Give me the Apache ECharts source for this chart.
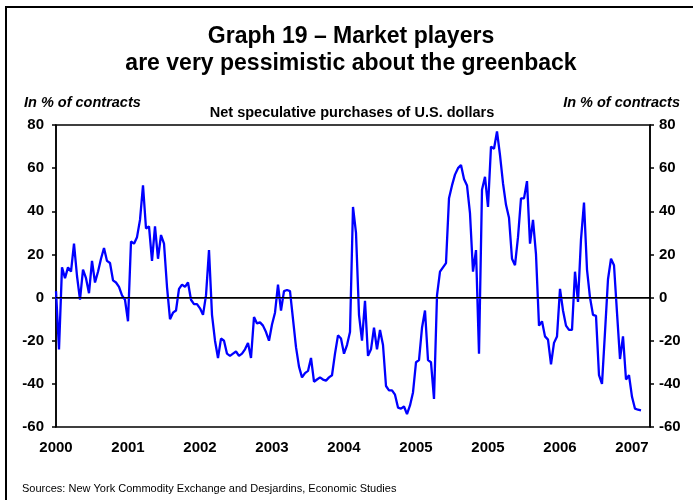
<!DOCTYPE html>
<html lang="en">
<head>
    <meta charset="UTF-8">
    <title>Graph 19</title>
    <style>
        body { margin: 0; background: #fff; }
    </style>
</head>
<body>
    <div id="chart" style="width:693px;height:500px;"></div>

    <script src="https://cdn.jsdelivr.net/npm/echarts@6/dist/echarts.min.js"></script>
    <script>
    // net speculative purchases, % of contracts (one point ~ every 3 px)
    var netPurchases = [
        3, -24, 14, 9, 14, 12, 25, 10, -1, 13,
        9, 2, 17, 7, 12, 18, 23, 17, 16, 8,
        7, 5, 1, -1, -11, 26, 25, 28, 36, 52,
        32, 33, 17, 33, 18, 29, 25, 5, -10, -7,
        -6, 4, 6, 5, 7, -1, -3, -3, -5, -8,
        1, 22, -8, -20, -28, -19, -20, -26, -27, -26,
        -25, -27, -26, -24, -21, -28, -9, -12, -11.5, -13,
        -16, -20, -12.5, -7, 6, -6, 3, 3.5, 3, -10,
        -23, -32, -37, -35, -34, -28, -39, -38, -37, -38,
        -38.5, -37, -36, -26, -17.5, -19, -26, -22, -16, 42,
        30, -8, -20, -1.5, -27, -24, -14, -24, -15, -22,
        -41, -43, -43, -45, -51, -51.5, -50.5, -54, -50, -44,
        -30, -29, -14, -6, -29, -30, -47, 1, 12, 14,
        16, 46, 52, 57, 60, 61.5, 55, 52, 39, 12,
        22, -26, 50, 56, 42, 70, 69, 77, 66, 53,
        43, 37, 18, 15, 28, 46, 46, 54, 25, 36,
        20, -13, -11, -18, -19.5, -31, -21, -18, 4, -6,
        -13, -15, -15, 12, -2, 27, 44, 13, 0, -8,
        -8.5, -36, -40, -16, 8.5, 18, 15, -7, -28.5, -18,
        -38, -36, -46, -51.5, -52, -52.3
    ];
    var pointCount = 199;          // slots along the axis
    var tickLabels = ['2000', '2001', '2002', '2003', '2004', '2005', '2005', '2006', '2007'];
    var labelEvery = 24;
    var yTicks = { min: -60, max: 80, step: 20 };

    var categories = [];
    for (var i = 0; i < pointCount; i++) categories.push(i);

    var font = '"Liberation Sans", Arial, sans-serif';

    function txt(text, x, y, size, opts) {
        opts = opts || {};
        return {
            type: 'text',
            x: x, y: y,
            silent: true,
            style: {
                text: text,
                fill: '#000',
                textAlign: opts.align || 'left',
                textVerticalAlign: 'middle',
                font: (opts.style || '') + ' ' + (opts.weight || 'bold') + ' ' + size + 'px ' + font
            }
        };
    }

    var yAxisCommon = {
        type: 'value',
        min: yTicks.min,
        max: yTicks.max,
        interval: yTicks.step,
        splitLine: { show: false },
        axisLine: { show: true, lineStyle: { color: '#000', width: 1.5 } },
        axisTick: { show: true, inside: false, length: 4, lineStyle: { color: '#000', width: 1.5 } },
        axisLabel: { color: '#000', fontSize: 15, fontWeight: 'bold', fontFamily: font }
    };

    var option = {
        animation: false,
        backgroundColor: '#fff',
        grid: {
            left: 56, right: 43, top: 125, bottom: 73,
            show: true, borderColor: '#000', borderWidth: 1.5, backgroundColor: 'transparent'
        },
        xAxis: {
            type: 'category',
            data: categories,
            boundaryGap: false,
            axisLine: { lineStyle: { color: '#000', width: 1.5 } },
            axisTick: { show: false },
            axisLabel: {
                interval: function (idx) { return idx % labelEvery === 0; },
                formatter: function (v, idx) { return tickLabels[Math.round(idx / labelEvery)] || ''; },
                color: '#000', fontSize: 15, fontWeight: 'bold', fontFamily: font, margin: 13
            },
            splitLine: { show: false }
        },
        yAxis: [
            Object.assign({}, yAxisCommon, { position: 'left', axisLabel: Object.assign({}, yAxisCommon.axisLabel, { margin: 12 }) }),
            Object.assign({}, yAxisCommon, { position: 'right', axisLabel: Object.assign({}, yAxisCommon.axisLabel, { margin: 9 }) })
        ],
        series: [{
            type: 'line',
            data: netPurchases,
            yAxisIndex: 0,
            showSymbol: false,
            lineStyle: { color: '#0000ff', width: 2.3 },
            markLine: {
                silent: true,
                symbol: 'none',
                label: { show: false },
                lineStyle: { color: '#000', width: 1, type: 'solid' },
                data: [{ yAxis: 0 }]
            },
            z: 3
        }],
        graphic: [
            {
                type: 'rect',
                silent: true,
                shape: { x: 6, y: 7, width: 720, height: 540 },
                style: { fill: 'none', stroke: '#000', lineWidth: 2 }
            },
            txt('Graph 19 \u2013 Market players', 351, 37, 23, { align: 'center' }),
            txt('are very pessimistic about the greenback', 351, 64, 23, { align: 'center' }),
            txt('In % of contracts', 24, 103, 14.5, { style: 'italic' }),
            txt('In % of contracts', 680, 103, 14.5, { style: 'italic', align: 'right' }),
            txt('Net speculative purchases of U.S. dollars', 352, 113, 14.5, { align: 'center' }),
            txt('Sources: New York Commodity Exchange and Desjardins, Economic Studies', 22, 489, 11, { weight: 'normal' })
        ]
    };

    var chart = echarts.init(document.getElementById('chart'));
    chart.setOption(option);
    </script>
</body>
</html>
